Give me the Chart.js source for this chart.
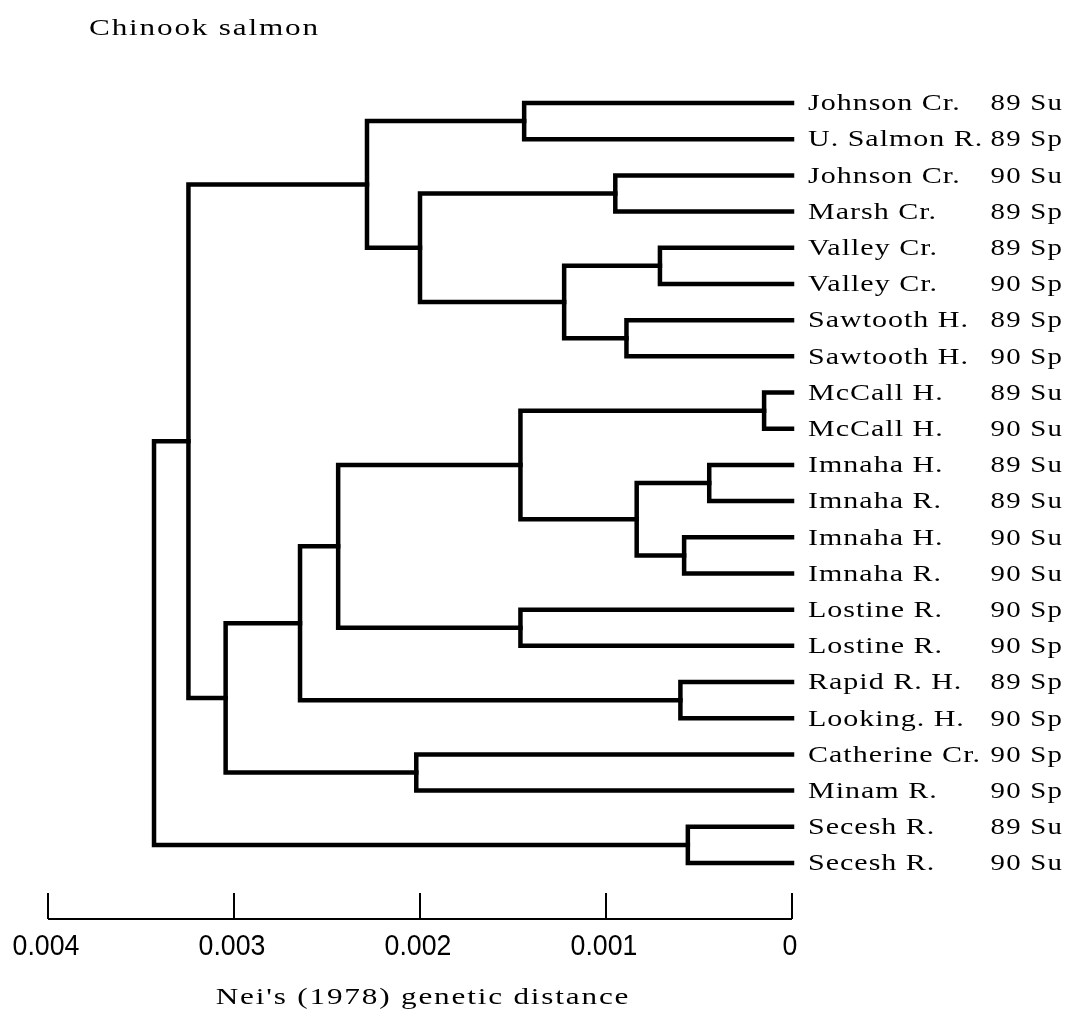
<!DOCTYPE html>
<html>
<head>
<meta charset="utf-8">
<script src="https://cdn.jsdelivr.net/npm/chart.js@4.4.1/dist/chart.umd.min.js"></script>
<style>
  html, body { margin: 0; padding: 0; background: #fff; }
  canvas { display: block; }
</style>
</head>
<body>
<canvas id="tree" width="1067" height="1017"></canvas>
<script>
// --- data ---
const chartTitle = 'Chinook salmon';
const axisTitle = "Nei's (1978) genetic distance";

const siteNames = [
    'Johnson Cr.', 'U. Salmon R.', 'Johnson Cr.', 'Marsh Cr.',
    'Valley Cr.', 'Valley Cr.', 'Sawtooth H.', 'Sawtooth H.',
    'McCall H.', 'McCall H.', 'Imnaha H.', 'Imnaha R.',
    'Imnaha H.', 'Imnaha R.', 'Lostine R.', 'Lostine R.',
    'Rapid R. H.', 'Looking. H.', 'Catherine Cr.', 'Minam R.',
    'Secesh R.', 'Secesh R.'
];
const sampleCodes = [
    '89 Su', '89 Sp', '90 Su', '89 Sp',
    '89 Sp', '90 Sp', '89 Sp', '90 Sp',
    '89 Su', '90 Su', '89 Su', '89 Su',
    '90 Su', '90 Su', '90 Sp', '90 Sp',
    '89 Sp', '90 Sp', '90 Sp', '90 Sp',
    '89 Su', '90 Su'
];

// joins: leaves are 0..21, join k becomes node 22 + k
const mergeLeft   = [0, 2, 4, 6, 24, 23, 22, 8, 10, 12, 30, 29, 14, 33, 16, 35, 18, 37, 28, 20, 40];
const mergeRight  = [1, 3, 5, 7, 25, 26, 27, 9, 11, 13, 31, 32, 15, 34, 17, 36, 19, 38, 39, 21, 41];
const mergeHeight = [0.00144, 0.00095, 0.00071, 0.00089, 0.001225, 0.0020, 0.002285,
                     0.00015, 0.000445, 0.00058, 0.000835, 0.00146, 0.00146, 0.00244,
                     0.00060, 0.002645, 0.00202, 0.003045, 0.003245, 0.00056, 0.00343];

const axisTicks = [0.004, 0.003, 0.002, 0.001, 0];
const tickLabels = ['0.004', '0.003', '0.002', '0.001', '0'];

function buildSegments() {
    const leafCount = siteNames.length;
    const ys = siteNames.map((_, i) => i);
    const hs = siteNames.map(() => 0);
    const segments = [];
    mergeHeight.forEach((h, k) => {
        const a = mergeLeft[k];
        const b = mergeRight[k];
        ys[leafCount + k] = (ys[a] + ys[b]) / 2;
        hs[leafCount + k] = h;
        segments.push([
            { x: hs[a], y: ys[a] },
            { x: h, y: ys[a] },
            { x: h, y: ys[b] },
            { x: hs[b], y: ys[b] }
        ]);
    });
    return segments;
}

function drawSpaced(ctx, text, x, y, align, scaleX, spacing) {
    ctx.save();
    ctx.letterSpacing = spacing + 'px';
    const w = ctx.measureText(text).width * scaleX;
    let left = x;
    if (align === 'right') left = x - w;
    if (align === 'center') left = x - w / 2;
    ctx.translate(left, y);
    ctx.scale(scaleX, 1);
    ctx.textAlign = 'left';
    ctx.fillText(text, 0, 0);
    ctx.restore();
}

const labelPlugin = {
    id: 'dendroLabels',
    afterDraw(chart) {
        const ctx = chart.ctx;
        const xs = chart.scales.x;
        const ys = chart.scales.y;
        const serif = '24px "Liberation Serif", serif';

        ctx.save();
        ctx.fillStyle = '#000';
        ctx.textBaseline = 'middle';
        ctx.font = serif;

        drawSpaced(ctx, chartTitle, 89, 29, 'left', 1.3, 1.4);

        const rootX = xs.getPixelForValue(0);
        siteNames.forEach((name, i) => {
            const py = ys.getPixelForValue(i);
            drawSpaced(ctx, name, rootX + 16, py + 1, 'left', 1.25, 0.8);
            drawSpaced(ctx, sampleCodes[i], 1063, py + 1, 'right', 1.2, 1);
        });

        // distance axis, ticks pointing up
        const axisY = 919;
        ctx.strokeStyle = '#000';
        ctx.lineWidth = 2;
        ctx.beginPath();
        ctx.moveTo(xs.getPixelForValue(0.004), axisY);
        ctx.lineTo(xs.getPixelForValue(0), axisY);
        axisTicks.forEach(t => {
            const px = Math.round(xs.getPixelForValue(t));
            ctx.moveTo(px, axisY);
            ctx.lineTo(px, axisY - 26);
        });
        ctx.stroke();

        ctx.font = '29px "Liberation Sans", sans-serif';
        axisTicks.forEach((t, i) => {
            drawSpaced(ctx, tickLabels[i], xs.getPixelForValue(t) - 2, 947, 'center', 0.92, 0);
        });

        ctx.font = serif;
        drawSpaced(ctx, axisTitle, 423, 998, 'center', 1.3, 1.4);
        ctx.restore();
    }
};

const segments = buildSegments();

const config = {
    type: 'scatter',
    data: {
        datasets: segments.map(seg => ({
            data: seg,
            showLine: true,
            borderColor: '#000',
            borderWidth: 4.5,
            borderJoinStyle: 'miter',
            borderCapStyle: 'square',
            pointRadius: 0,
            clip: false
        }))
    },
    options: {
        responsive: false,
        animation: false,
        devicePixelRatio: 1,
        layout: { padding: { left: 48, right: 275, top: 67, bottom: 100 } },
        plugins: {
            legend: { display: false },
            tooltip: { enabled: false }
        },
        scales: {
            x: { type: 'linear', reverse: true, min: 0, max: 0.004, display: false },
            y: { type: 'linear', reverse: true, min: -0.995, max: 22.492, display: false }
        }
    },
    plugins: [labelPlugin]
};

new Chart(document.getElementById('tree').getContext('2d'), config);
</script>
</body>
</html>
